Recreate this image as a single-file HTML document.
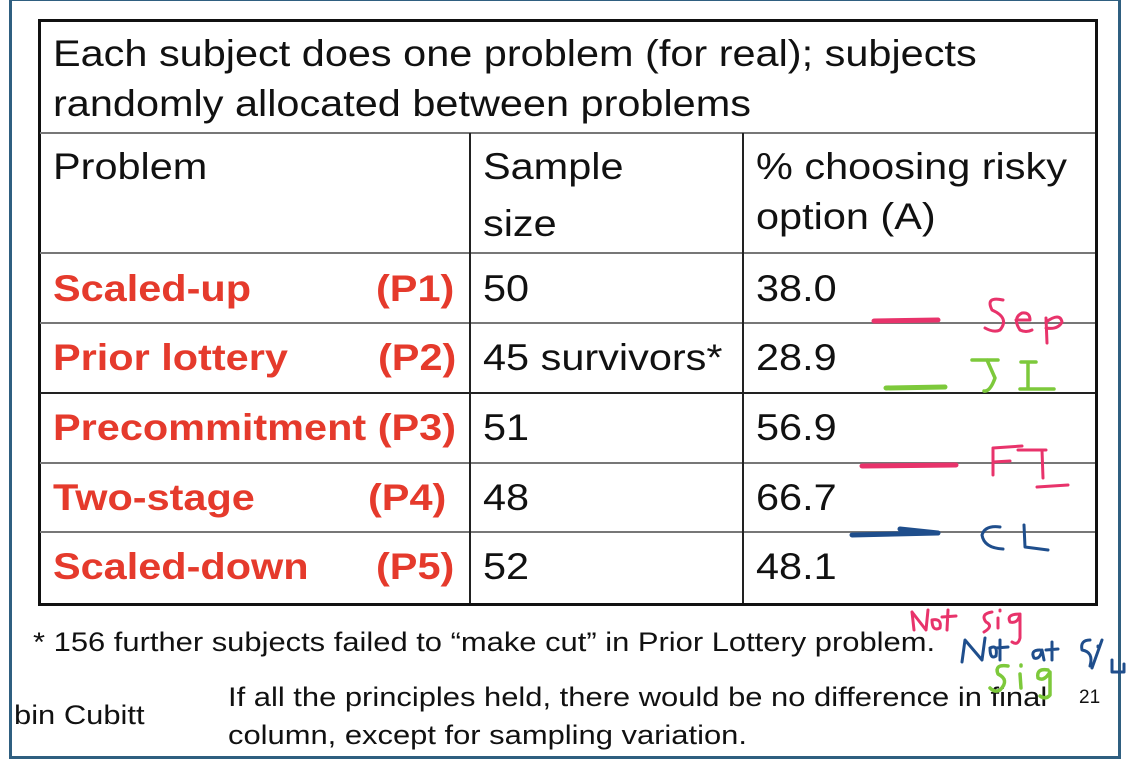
<!DOCTYPE html>
<html><head><meta charset="utf-8"><style>
body{margin:0;width:1134px;height:766px;background:#fff;position:relative;overflow:hidden;font-family:"Liberation Sans",sans-serif;color:#111}
.frame{position:absolute;left:9px;top:-2px;width:1106px;height:755px;border:3px solid #2f5f80}
.t{position:absolute;white-space:nowrap;font-size:37px;line-height:1;transform:scaleX(1.12);transform-origin:0 0}
.s{font-size:27px;transform:scaleX(1.145)}
.r{color:#e53a2c;font-weight:bold}
.hl{position:absolute;height:2px;background:#777;left:40px;width:1055px}
.vl{position:absolute;width:2px;background:#222;top:133px;height:470px}
</style></head><body>
<div class="frame"></div>
<div style="position:absolute;left:38px;top:19px;width:1054px;height:581px;border:3px solid #111"></div>
<div class="hl" style="top:132px"></div>
<div class="hl" style="top:252px"></div>
<div class="hl" style="top:322px"></div>
<div class="hl" style="top:392px;background:#222"></div>
<div class="hl" style="top:462px"></div>
<div class="hl" style="top:531px"></div>
<div class="vl" style="left:469px"></div>
<div class="vl" style="left:742px"></div>

<div class="t" style="left:53px;top:35px">Each subject does one problem (for real); subjects</div>
<div class="t" style="left:53px;top:85px">randomly allocated between problems</div>
<div class="t" style="left:53px;top:148px">Problem</div>
<div class="t" style="left:483px;top:148px">Sample</div>
<div class="t" style="left:483px;top:205px">size</div>
<div class="t" style="left:756px;top:148px">% choosing risky</div>
<div class="t" style="left:756px;top:198px">option (A)</div>

<div class="t r" style="left:53px;top:270px">Scaled-up</div><div class="t r" style="left:376px;top:270px">(P1)</div>
<div class="t" style="left:483px;top:270px">50</div><div class="t" style="left:756px;top:270px">38.0</div>
<div class="t r" style="left:53px;top:339px">Prior lottery</div><div class="t r" style="left:378px;top:339px">(P2)</div>
<div class="t" style="left:483px;top:339px">45 survivors*</div><div class="t" style="left:756px;top:339px">28.9</div>
<div class="t r" style="left:53px;top:409px">Precommitment (P3)</div>
<div class="t" style="left:483px;top:409px">51</div><div class="t" style="left:756px;top:409px">56.9</div>
<div class="t r" style="left:53px;top:479px">Two-stage</div><div class="t r" style="left:368px;top:479px">(P4)</div>
<div class="t" style="left:483px;top:479px">48</div><div class="t" style="left:756px;top:479px">66.7</div>
<div class="t r" style="left:53px;top:548px">Scaled-down</div><div class="t r" style="left:376px;top:548px">(P5)</div>
<div class="t" style="left:483px;top:548px">52</div><div class="t" style="left:756px;top:548px">48.1</div>

<div class="t s" style="left:33px;top:629px">* 156 further subjects failed to “make cut” in Prior Lottery problem.</div>
<div class="t s" style="left:14px;top:702px">bin Cubitt</div>
<div class="t s" style="left:228px;top:684px">If all the principles held, there would be no difference in final</div>
<div class="t s" style="left:228px;top:722px">column, except for sampling variation.</div>
<div style="position:absolute;left:1079px;top:688px;font-size:19px;line-height:1">21</div>

<svg style="position:absolute;left:0;top:0" width="1134" height="766" fill="none" stroke-linecap="round" stroke-linejoin="round">
<g stroke="#e8336b" stroke-width="5"><path d="M874 321 L938 320"/><path d="M862 466 L956 465"/></g>
<g stroke="#e8336b" stroke-width="3">
<path d="M1003 300 Q985 296 992 310 Q1010 318 1000 330 Q994 333 985 328"/>
<path d="M1016 320 L1030 320 Q1030 312 1022 313 Q1012 318 1020 330 Q1026 333 1032 330"/>
<path d="M1046 318 L1047 343 M1046 322 Q1060 312 1062 322 Q1058 330 1046 328"/>
<path d="M993 448 L993 475 M993 448 L1022 446 M993 462 L1010 461"/>
<path d="M1018 450 L1046 450 M1042 450 L1043 478 M1037 487 L1068 485"/>
<path d="M912 612 L914 630 M912 612 L926 630 L928 610 M932 620 Q942 618 940 628 Q932 632 932 620 M948 610 L947 630 M942 617 L956 616"/>
<path d="M992 612 Q980 614 986 622 Q994 626 984 632 M998 618 L998 628 M1000 610 L1000 611 M1020 614 Q1006 614 1010 622 Q1018 624 1020 614 L1020 638 Q1018 646 1012 642"/>
</g>
<g stroke="#7dc93b" stroke-width="5"><path d="M886 388 L945 387"/></g>
<g stroke="#7dc93b" stroke-width="3.5">
<path d="M972 360 L998 360 M987 360 L995 378 Q990 392 984 391"/>
<path d="M1021 362 L1036 362 M1028 362 L1028 389 M1020 389 L1054 389"/>
<path d="M1008 666 Q994 664 998 674 Q1010 680 1000 690 Q995 693 990 688"/>
<path d="M1020 674 L1021 688 M1021 665 L1021 666 M1048 670 Q1036 668 1038 678 Q1044 682 1050 672 L1050 695 Q1046 700 1040 696"/>
</g>
<g stroke="#1f4e8c" stroke-width="5"><path d="M852 535 L938 533 M900 529 L938 533"/></g>
<g stroke="#1f4e8c" stroke-width="3">
<path d="M1000 527 Q985 525 982 535 Q984 548 1003 549"/>
<path d="M1024 525 L1025 547 L1048 550"/>
<path d="M962 662 L965 640 L982 660 L985 638 M990 648 Q998 644 996 656 Q990 660 990 648 M1000 640 L1000 660 M996 648 L1008 647"/>
<path d="M1040 650 Q1030 650 1034 658 Q1040 660 1042 650 L1044 660 M1052 642 L1052 660 M1046 650 L1058 649"/>
<path d="M1090 640 Q1080 640 1082 650 Q1094 652 1090 666 M1102 640 L1092 668 M1098 646 L1098 647 M1112 660 L1112 672 L1124 672 L1124 664"/>
</g>
</svg>
</body></html>
